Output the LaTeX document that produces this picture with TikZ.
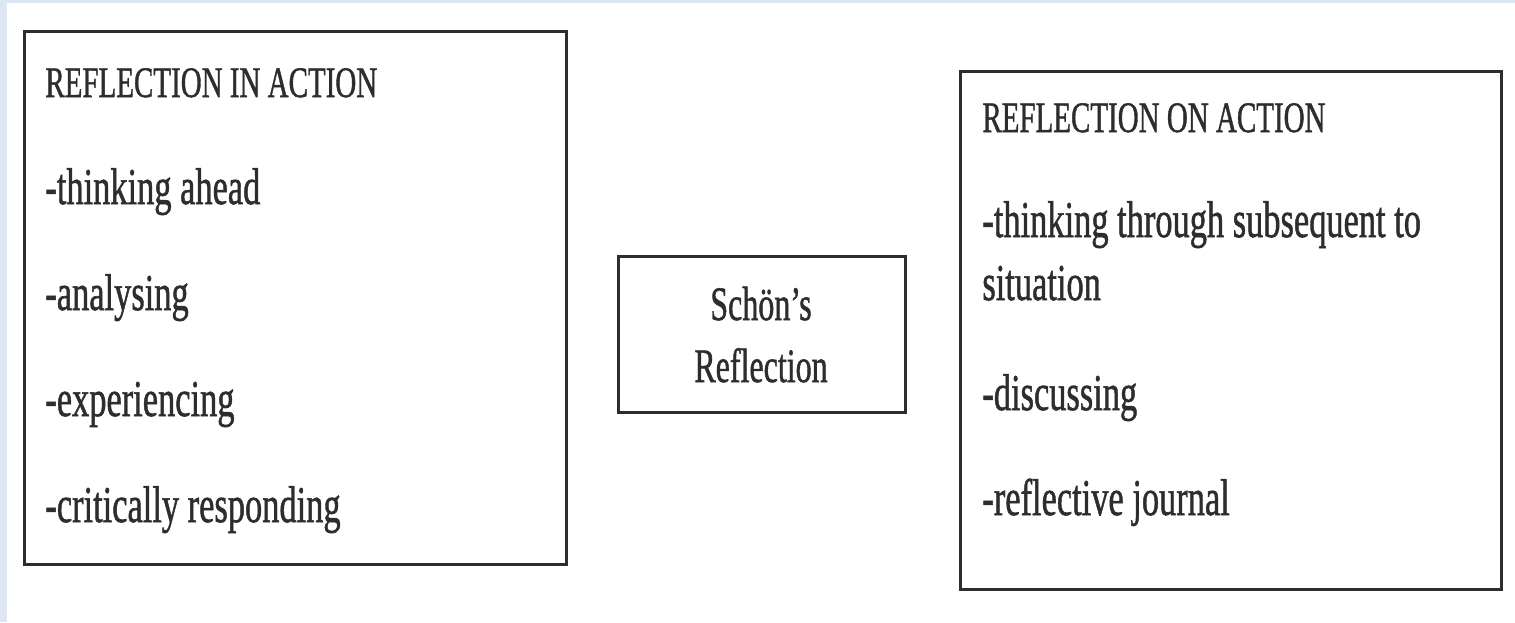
\documentclass[tikz,border=0pt]{standalone}
\usepackage{fontspec}
\setmainfont{Liberation Serif}
\newfontfamily\boxfont[BoldFont={Liberation Serif}, BoldFeatures={FakeBold=1.2}]{Liberation Serif}
\usepackage{tikz}

\definecolor{edgeblue}{RGB}{221,231,243}
\definecolor{inkgray}{RGB}{45,45,45}

\tikzset{
    box/.style={draw=inkgray, line width=1.5pt, fill=white},
    head/.style={anchor=base west, inner sep=0pt, yscale=1.5, text=inkgray,
        font=\boxfont\bfseries\fontsize{14.5}{17}\selectfont},
    item/.style={anchor=base west, inner sep=0pt, yscale=1.5, text=inkgray,
        font=\boxfont\bfseries\fontsize{17.2}{20}\selectfont},
    label/.style={anchor=base, inner sep=0pt, yscale=1.5, text=inkgray,
        font=\boxfont\bfseries\fontsize{16}{19}\selectfont}
}

\begin{document}
\begin{tikzpicture}[x=0.5pt, y=-0.5pt]
    % page with the thin blue margin
    \fill[edgeblue] (0, 0) rectangle (1515, 622);
    \fill[white] (7, 3) rectangle (1515, 622);

    % reflection in action
    \draw[box] (24, 31) rectangle (566, 564);
    \node[head] (inhead) at (45, 97) {REFLECTION IN ACTION};
    \node[item] (inahead) at (45, 204) {-thinking ahead};
    \node[item] (inanalyse) at (45, 310) {-analysing};
    \node[item] (inexperience) at (45, 416) {-experiencing};
    \node[item] (inrespond) at (45, 522) {-critically responding};

    % centre
    \draw[box] (618, 256) rectangle (905, 412);
    \node[label] (schon) at (761, 320) {Schön’s};
    \node[label] (reflection) at (761, 382) {Reflection};

    % reflection on action
    \draw[box] (960, 71) rectangle (1501, 589);
    \node[head] (onhead) at (982, 132) {REFLECTION ON ACTION};
    \node[item] (onthrough) at (982, 237) {-thinking through subsequent to};
    \node[item] (onsituation) at (982, 300) {situation};
    \node[item] (ondiscuss) at (982, 410) {-discussing};
    \node[item] (onjournal) at (982, 515) {-reflective journal};
\end{tikzpicture}
\end{document}
